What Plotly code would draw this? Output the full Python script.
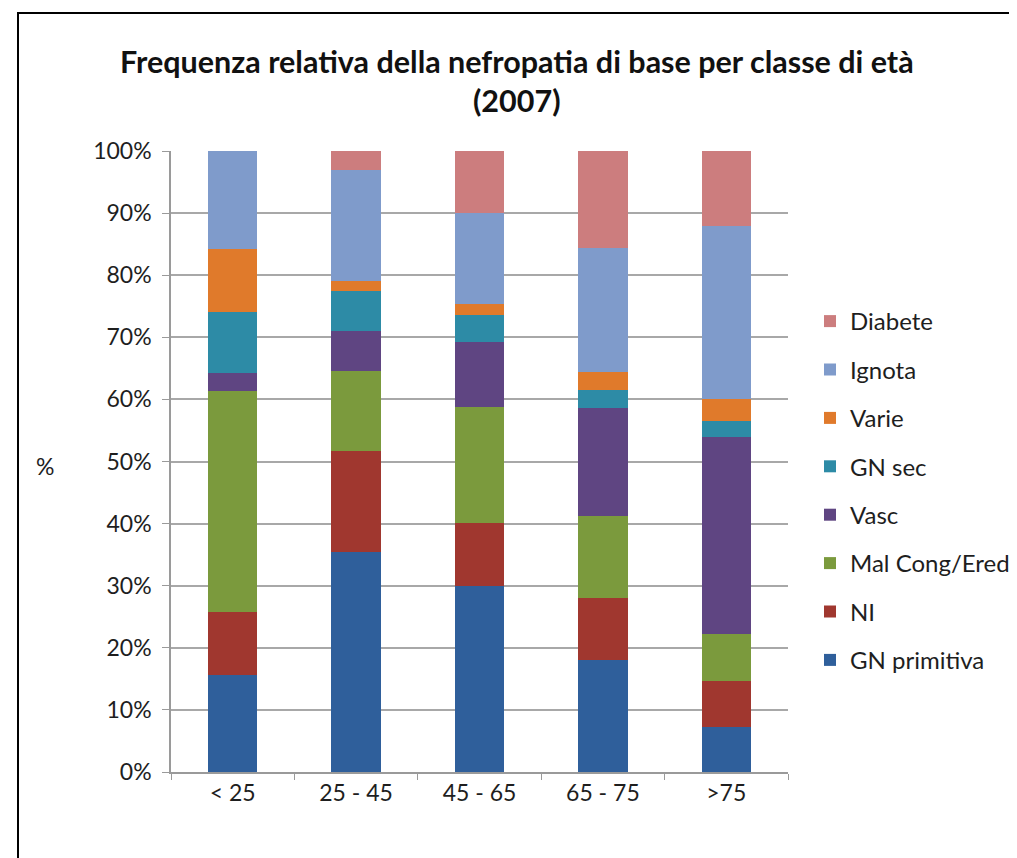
import plotly.graph_objects as go

categories = ["< 25", "25 - 45", "45 - 65", "65 - 75", ">75"]

gn_primitiva = [15.6, 35.5, 30.0, 18.1, 7.2]
ni = [10.1, 16.2, 10.1, 9.9, 7.5]
mal_cong = [35.7, 12.9, 18.7, 13.2, 7.6]
vasc = [2.8, 6.4, 10.4, 17.4, 31.7]
gn_sec = [9.9, 6.5, 4.4, 2.9, 2.6]
varie = [10.2, 1.6, 1.7, 2.9, 3.5]
ignota = [15.7, 17.8, 14.7, 20.0, 27.9]
diabete = [0.0, 3.1, 10.0, 15.6, 12.0]

series_names = ["GN primitiva", "NI", "Mal Cong/Ered", "Vasc", "GN sec", "Varie", "Ignota", "Diabete"]
series_values = [gn_primitiva, ni, mal_cong, vasc, gn_sec, varie, ignota, diabete]
series_colors = ["#2f5f9b", "#a0372f", "#7b9a3d", "#5f4582", "#2d8ba6", "#e07a2b", "#7f9bcb", "#cc7d7e"]

y_ticks = [0, 10, 20, 30, 40, 50, 60, 70, 80, 90, 100]
y_tick_labels = [f"{v}%" for v in y_ticks]

W, H = 1017, 858
OFF = 8  # page body offset
L, R, T, B = 171 - OFF, 788 - OFF, 151 - OFF, 772 - OFF

def px_x(x):
    return (x - OFF - L) / (R - L)

def px_y(y):
    return (B - (y - OFF)) / (B - T)

FONT = "Lato"
TXT = "#1e1e1e"

fig = go.Figure()
n = len(series_names)
for i, (name, vals, col) in enumerate(zip(series_names, series_values, series_colors)):
    fig.add_trace(go.Bar(
        x=categories, y=vals, name=name, legendgroup=name, legendrank=n - i,
        marker=dict(color=col, line=dict(width=0)),
    ))

fig.update_layout(
    width=W, height=H,
    margin=dict(l=L, r=W - R, t=T, b=H - B, autoexpand=False),
    barmode="stack", bargap=0.6,
    plot_bgcolor="white", paper_bgcolor="white",
    font=dict(family=FONT, size=23, color=TXT),
    showlegend=True,
    legend=dict(
        x=px_x(810), y=px_y(299), xanchor="left", yanchor="top",
        traceorder="grouped", tracegroupgap=14.2,
        font=dict(family=FONT, size=24, color=TXT),
        bgcolor="rgba(0,0,0,0)",
    ),
    xaxis=dict(
        type="category", showgrid=False, showline=True, linecolor="#9a9a9a", linewidth=1.5,
        ticks="outside", tickson="boundaries", ticklen=6, tickcolor="#9a9a9a",
        tickfont=dict(family=FONT, size=23, color=TXT),
    ),
    yaxis=dict(
        range=[0, 100], tickvals=y_ticks, ticktext=y_tick_labels,
        showgrid=True, gridcolor="#a8a8a8", gridwidth=1.5,
        showline=True, linecolor="#9a9a9a", linewidth=1.5,
        ticks="outside", ticklen=7, tickcolor="#9a9a9a",
        ticklabelstandoff=6,
        tickfont=dict(family=FONT, size=23, color=TXT),
        zeroline=False,
    ),
    annotations=[
        dict(text="<b>Frequenza relativa della nefropatia di base per classe di età</b>",
             x=px_x(517), y=px_y(61), xref="paper", yref="paper",
             xanchor="center", yanchor="middle", showarrow=False,
             font=dict(family=FONT, size=30.5, color="#111")),
        dict(text="<b>(2007)</b>",
             x=px_x(517), y=px_y(100), xref="paper", yref="paper",
             xanchor="center", yanchor="middle", showarrow=False,
             font=dict(family=FONT, size=30.5, color="#111")),
        dict(text="%", x=px_x(45), y=px_y(466), xref="paper", yref="paper",
             xanchor="center", yanchor="middle", showarrow=False,
             font=dict(family=FONT, size=23, color=TXT)),
    ],
    shapes=[
        dict(type="rect", xref="paper", yref="paper",
             x0=px_x(18), x1=px_x(1040), y0=px_y(880), y1=px_y(13),
             line=dict(color="black", width=2), fillcolor="rgba(0,0,0,0)", layer="below"),
    ],
)

fig.write_html("out.html")
